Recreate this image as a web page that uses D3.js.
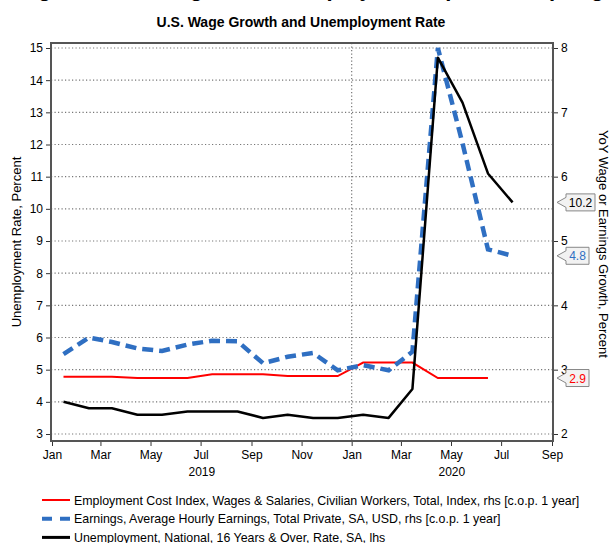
<!DOCTYPE html>
<html>
<head>
<meta charset="utf-8">
<script src="https://cdn.jsdelivr.net/npm/d3@7"></script>
<style>
  body { margin: 0; background: #fff; }
  svg { font-family: "Liberation Sans", Arial, sans-serif; }
</style>
</head>
<body>
<div class="canvas"></div>
<script>
// months Jan 2019 .. Jul 2020, plotted mid-month
const months = ['2019-01','2019-02','2019-03','2019-04','2019-05','2019-06','2019-07','2019-08','2019-09','2019-10','2019-11','2019-12',
                '2020-01','2020-02','2020-03','2020-04','2020-05','2020-06','2020-07'];

// unemployment rate, lhs
const unemployment = [4.0,3.8,3.8,3.6,3.6,3.7,3.7,3.7,3.5,3.6,3.5,3.5,3.6,3.5,4.4,14.7,13.3,11.1,10.2];
// average hourly earnings yoy, rhs
const earnings = [3.24,3.5,3.43,3.33,3.29,3.39,3.45,3.44,3.1,3.2,3.26,2.99,3.07,2.99,3.28,8.0,6.52,4.87,4.77];
// ECI wages & salaries yoy, rhs (ends Jun 2020)
const eci = [2.89,2.89,2.89,2.87,2.87,2.87,2.93,2.93,2.93,2.9,2.9,2.9,3.11,3.11,3.11,2.87,2.87,2.87];

const leftTicks = [3,4,5,6,7,8,9,10,11,12,13,14,15];
const rightTicks = [2,3,4,5,6,7,8];
const legendLabels = [
  'Employment Cost Index, Wages & Salaries, Civilian Workers, Total, Index, rhs [c.o.p. 1 year]',
  'Earnings, Average Hourly Earnings, Total Private, SA, USD, rhs [c.o.p. 1 year]',
  'Unemployment, National, 16 Years & Over, Rate, SA, lhs'
];

const RED = '#ff0000';
const BLUE = '#2f6fc2';
const BLACK = '#000';

const svg = d3.select('.canvas')
  .append('svg')
    .attr('width', 611)
    .attr('height', 543);

const plot = {left: 51, right: 553, top: 43, bottom: 441};

const parse = d3.timeParse('%Y-%m');
const mid = s => { const d = parse(s); return new Date(d.getFullYear(), d.getMonth(), 15); };

const x = d3.scaleTime()
  .domain([new Date(2019, 0, 1), new Date(2020, 8, 1)])
  .range([52, 552]);

const yL = d3.scaleLinear().domain([3, 15]).range([434, 48]);
const yR = d3.scaleLinear().domain([2, 8]).range([434, 48]);

// clipped headline at very top
svg.append('text')
  .attr('x', 305).attr('y', -4)
  .attr('text-anchor', 'middle')
  .attr('font-size', 22).attr('font-weight', 'bold')
  .text('Wage Growth Surged as Unemployment Spiked in Spring');

svg.append('text')
  .attr('x', 301).attr('y', 27)
  .attr('text-anchor', 'middle')
  .attr('font-size', 14).attr('font-weight', 'bold')
  .text('U.S. Wage Growth and Unemployment Rate');

// gridlines
svg.append('g')
  .selectAll('line')
  .data(leftTicks)
  .enter().append('line')
    .attr('x1', plot.left).attr('x2', plot.right)
    .attr('y1', d => yL(d)).attr('y2', d => yL(d))
    .attr('stroke', '#777').attr('stroke-width', 1.2)
    .attr('stroke-dasharray', '1.2,2.3');

svg.append('line')
  .attr('x1', x(new Date(2020, 0, 1))).attr('x2', x(new Date(2020, 0, 1)))
  .attr('y1', plot.top).attr('y2', plot.bottom)
  .attr('stroke', '#777').attr('stroke-width', 1.2)
  .attr('stroke-dasharray', '1.2,2.3');

// axes
const axisStyle = g => {
  g.select('.domain').remove();
  g.selectAll('.tick line').attr('stroke', '#333');
  g.selectAll('.tick text').attr('font-size', 12).attr('fill', '#000')
    .attr('font-family', '"Liberation Sans", Arial, sans-serif');
};

svg.append('g')
  .attr('transform', `translate(${plot.left},0)`)
  .call(d3.axisLeft(yL).tickValues(leftTicks).tickSize(5).tickPadding(3))
  .call(axisStyle);

svg.append('g')
  .attr('transform', `translate(${plot.right},0)`)
  .call(d3.axisRight(yR).tickValues(rightTicks).tickFormat(d3.format('d')).tickSize(5).tickPadding(3))
  .call(axisStyle);

svg.append('g')
  .attr('transform', `translate(0,${plot.bottom})`)
  .call(d3.axisBottom(x).ticks(d3.timeMonth.every(2)).tickFormat(d3.timeFormat('%b')).tickSize(5).tickPadding(4))
  .call(axisStyle);

// year labels
svg.append('g')
  .selectAll('text')
  .data([[new Date(2019, 0, 1), new Date(2020, 0, 1), '2019'], [new Date(2020, 0, 1), new Date(2020, 8, 1), '2020']])
  .enter().append('text')
    .attr('x', d => (x(d[0]) + x(d[1])) / 2)
    .attr('y', 476)
    .attr('text-anchor', 'middle')
    .attr('font-size', 12)
    .text(d => d[2]);

// axis titles
svg.append('text')
  .attr('transform', `translate(21,${(plot.top + plot.bottom) / 2}) rotate(-90)`)
  .attr('text-anchor', 'middle')
  .attr('font-size', 13)
  .text('Unemployment Rate, Percent');

svg.append('text')
  .attr('transform', `translate(599,${(plot.top + plot.bottom) / 2 + 2}) rotate(90)`)
  .attr('text-anchor', 'middle')
  .attr('font-size', 13)
  .text('YoY Wage or Earnings Growth, Percent');

// lines
const lineL = d3.line().x((d, i) => x(mid(months[i]))).y(d => yL(d));
const lineR = d3.line().x((d, i) => x(mid(months[i]))).y(d => yR(d));

svg.append('path').datum(eci)
  .attr('d', lineR).attr('fill', 'none')
  .attr('stroke', RED).attr('stroke-width', 2);

svg.append('path').datum(earnings)
  .attr('d', lineR).attr('fill', 'none')
  .attr('stroke', BLUE).attr('stroke-width', 4.5)
  .attr('stroke-dasharray', '11,6');

svg.append('path').datum(unemployment)
  .attr('d', lineL).attr('fill', 'none')
  .attr('stroke', BLACK).attr('stroke-width', 2.5)
  .attr('stroke-linejoin', 'round');

// plot frame
svg.append('rect')
  .attr('x', plot.left).attr('y', plot.top)
  .attr('width', plot.right - plot.left).attr('height', plot.bottom - plot.top)
  .attr('fill', 'none').attr('stroke', '#555').attr('stroke-width', 2);

// last value callouts
const callouts = [
  {v: unemployment[unemployment.length - 1], y: yL(unemployment[unemployment.length - 1]), c: BLACK},
  {v: earnings[earnings.length - 1], y: yR(earnings[earnings.length - 1]), c: BLUE},
  {v: eci[eci.length - 1], y: yR(eci[eci.length - 1]), c: RED}
];

const cg = svg.append('g')
  .selectAll('g')
  .data(callouts)
  .enter().append('g')
    .attr('transform', d => `translate(557,${d.y})`);

cg.append('path')
  .attr('d', d => {
    const w = d.v >= 10 ? 29 : 23;
    return `M0,0 L9,-5 L9,-8.5 L${9 + w},-8.5 L${9 + w},8.5 L9,8.5 L9,5 Z`;
  })
  .attr('fill', '#f2f2f2').attr('stroke', '#888').attr('stroke-width', 1);

cg.append('text')
  .attr('x', d => 9 + (d.v >= 10 ? 29 : 23) / 2)
  .attr('y', 4.5)
  .attr('text-anchor', 'middle')
  .attr('font-size', 12)
  .attr('fill', d => d.c)
  .text(d => d.v.toFixed(1));

// legend
const legend = svg.append('g')
  .selectAll('g')
  .data(legendLabels)
  .enter().append('g')
    .attr('transform', (d, i) => `translate(0,${500 + i * 18.7})`);

legend.append('line')
  .attr('x1', 42).attr('x2', 70)
  .attr('y1', 0).attr('y2', 0)
  .attr('stroke', (d, i) => [RED, BLUE, BLACK][i])
  .attr('stroke-width', (d, i) => [2, 4, 3][i])
  .attr('stroke-dasharray', (d, i) => i === 1 ? '10,8' : null);

legend.append('text')
  .attr('x', 74).attr('y', 4.5)
  .attr('font-size', 12.4)
  .text(d => d);
</script>
</body>
</html>
